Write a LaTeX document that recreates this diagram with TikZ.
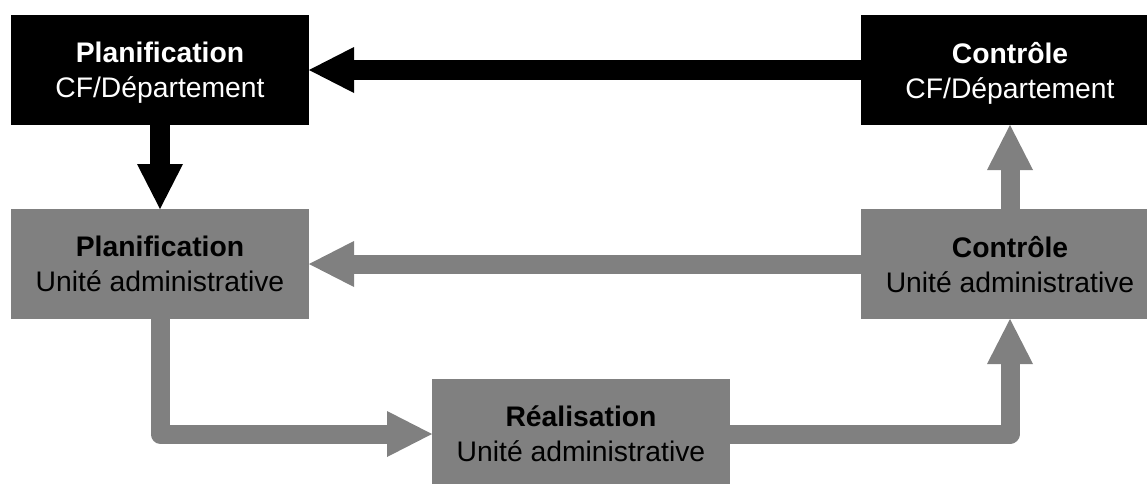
\documentclass[tikz,border=0pt]{standalone}
\usepackage{fontspec}
\setmainfont{Liberation Sans}
\usetikzlibrary{arrows.meta, positioning}
\definecolor{boxgray}{gray}{0.5}

\begin{document}
\begin{tikzpicture}[x=0.5pt,y=-0.5pt,>={Triangle[length=22.5pt,width=23pt,line width=0pt]},
    font=\fontsize{14.15pt}{17.5pt}\selectfont,
    base node/.style={rectangle,minimum width=149pt,minimum height=55pt,inner sep=0pt,outer sep=0pt,align=center,text depth=0pt},
    cf node/.style={base node,fill=black,text=white},
    ua node/.style={base node,fill=boxgray,text=black},
    cf arrow/.style={->,line width=10pt,draw=black},
    ua arrow/.style={->,line width=9.5pt,draw=boxgray,line join=round}]

\useasboundingbox (0,0) rectangle (1147,483);
\clip (0,0) rectangle (1147,483);

\node[cf node]                 (planCF)  at (160,70) {\textbf{Planification}\\CF/Département};
\node[cf node]                 (ctrlCF)  [right=276pt of planCF] {\textbf{Contrôle}\\CF/Département};
\node[ua node]                 (planUA)  [below=42pt of planCF] {\textbf{Planification}\\Unité administrative};
\node[ua node]                 (ctrlUA)  [below=42pt of ctrlCF] {\textbf{Contrôle}\\Unité administrative};
\node[ua node]                 (realUA)  [below right=30pt and 61.5pt of planUA] {\textbf{Réalisation}\\Unité administrative};

% CF / Departement
\draw[cf arrow] (ctrlCF) -- (planCF);
\draw[cf arrow] (planCF) -- (planUA);

% Unite administrative
\draw[ua arrow] (ctrlUA) -- (planUA);
\draw[ua arrow] (ctrlUA) -- (ctrlCF);
\draw[ua arrow] (planUA.south) |- (realUA.west);
\draw[ua arrow] (realUA.east) -| (ctrlUA.south);

\end{tikzpicture}
\end{document}
